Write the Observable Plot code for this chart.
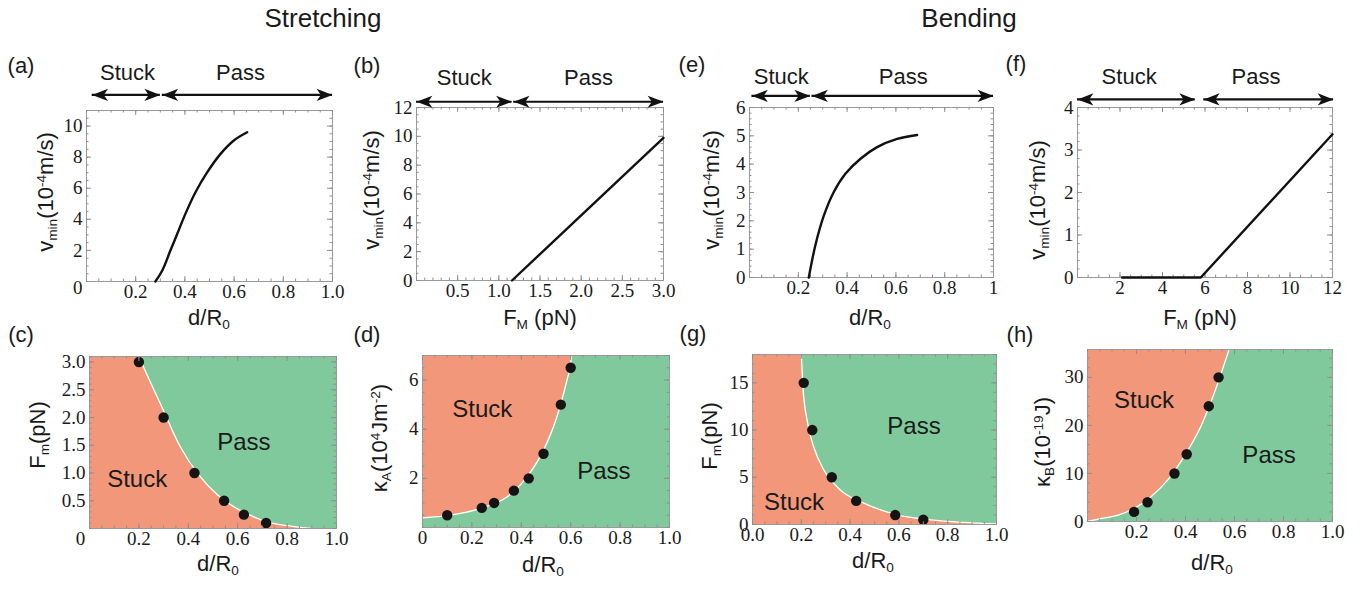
<!DOCTYPE html>
<html><head><meta charset="utf-8">
<script src="https://cdn.jsdelivr.net/npm/d3@7"></script>
<script src="https://cdn.jsdelivr.net/npm/@observablehq/plot@0.6"></script>
<style>
body{margin:0;background:#fff;}
#fig{position:relative;width:1371px;height:590px;overflow:hidden;font-family:"Liberation Sans",Arial,sans-serif;color:#1a1a1a;}
.t{position:absolute;transform:translate(-50%,-50%);white-space:nowrap;line-height:1;}
.title{font-size:26px;}
.pl{font-size:22px;}
.xl{font-size:22px;}
.yl{font-size:22px;transform:translate(-50%,-50%) rotate(-90deg);}
.sb{font-size:0.62em;position:relative;top:0.3em;}
.sp{font-size:0.62em;position:relative;top:-0.55em;}
#fig svg g[aria-label*="axis"] text, #fig svg g[aria-label*="axis"]{font-family:"Liberation Serif","Times New Roman",serif !important;font-size:19px !important;}
</style></head><body><div id="fig"></div>
<script>
// ---------- Data ----------
// (a) stretching: v_min vs d/R0
const aD = [0.280,0.308,0.341,0.369,0.402,0.443,0.491,0.545,0.599,0.653];
const aV = [0,0.71,1.99,3.07,4.35,5.74,7.03,8.21,9.07,9.6];
const aStuck = [0.023,0.30], aPass = [0.308,1.0], aArrowY = 12, aLabelX = [0.167,0.626];
const aXTicks = [0.2,0.4,0.6,0.8,1.0], aYTicks = [2,4,6,8,10];
// (b) stretching: v_min vs F_M
const bF = [1.16,3.0];
const bV = [0,9.9];
const bStuck = [0,1.16], bPass = [1.18,3.0], bArrowY = 12.4, bLabelX = [0.58,2.09];
const bXTicks = [0.5,1.0,1.5,2.0,2.5,3.0], bYTicks = [0,2,4,6,8,10,12];
// (e) bending: v_min vs d/R0
const eD = [0.243,0.270,0.305,0.345,0.393,0.455,0.523,0.605,0.687];
const eV = [0,1.14,2.19,3.01,3.66,4.19,4.60,4.89,5.03];
const eStuck = [0.01,0.249], ePass = [0.256,1.0], eArrowY = 6.41, eLabelX = [0.13,0.63];
const eXTicks = [0.2,0.4,0.6,0.8,1], eYTicks = [0,1,2,3,4,5,6];
// (f) bending: v_min vs F_M
const fF = [2.1,5.8,12];
const fV = [0,0,3.37];
const fStuck = [0,5.54], fPass = [5.94,12.05], fArrowY = 4.19, fLabelX = [2.43,8.4];
const fXTicks = [2,4,6,8,10,12], fYTicks = [0,1,2,3,4];
// (c) phase diagram F_m vs d/R0 (stretching)
const cD = [0.2,0.3,0.425,0.545,0.625,0.715];
const cF = [3.0,2.0,1.0,0.5,0.25,0.1];
const cBx = [0.2,0.24,0.287,0.368,0.449,0.52,0.585,0.65,0.72,0.8,0.854,0.9];
const cBy = [3.1,2.7,2.25,1.47,0.93,0.6,0.39,0.24,0.12,0.05,0.02,0];
const cLabelX = [0.193,0.625], cLabelY = [0.89,1.55];
const cXTicks = [0.2,0.4,0.6,0.8,1.0], cYTicks = [0.5,1.0,1.5,2.0,2.5,3.0];
// (d) phase diagram kappa_A vs d/R0
const dD = [0.1,0.24,0.29,0.37,0.43,0.49,0.56,0.6];
const dK = [0.5,0.8,1.0,1.5,2.0,3.0,5.0,6.5];
const dBx = [0,0.113,0.235,0.343,0.424,0.491,0.545,0.585,0.597,0.604];
const dBy = [0.39,0.5,0.78,1.25,2.07,3.17,4.53,6.0,6.5,7.0];
const dLabelX = [0.242,0.734], dLabelY = [4.8,2.28];
const dXTicks = [0,0.2,0.4,0.6,0.8,1.0], dYTicks = [2,4,6];
// (g) phase diagram F_m vs d/R0 (bending)
const gD = [0.21,0.245,0.325,0.425,0.585,0.70];
const gF = [15,10,5,2.5,1,0.5];
const gBx = [0.2,0.207,0.224,0.251,0.292,0.36,0.456,0.593,0.73,0.866,1.0];
const gBy = [18,14.5,11.0,8.2,5.8,3.66,2.26,1.03,0.5,0.22,0.05];
const gLabelX = [0.17,0.662], gLabelY = [2.3,10.4];
const gXTicks = [0,0.2,0.4,0.6,0.8,1.0], gYTicks = [0,5,10,15];
// (h) phase diagram kappa_B vs d/R0
const hD = [0.19,0.245,0.355,0.405,0.495,0.535];
const hK = [2,4,10,14,24,30];
const hBx = [0,0.054,0.122,0.19,0.258,0.327,0.394,0.462,0.517,0.578];
const hBy = [0,0.6,1.3,2.7,5.1,8.6,13.5,19.7,26.7,35.8];
const hLabelX = [0.231,0.741], hLabelY = [25.3,13.8];
const hXTicks = [0.2,0.4,0.6,0.8,1.0], hYTicks = [0,10,20,30];
const regionLabels = ["Stuck","Pass"];

// ---------- Styles ----------
const GREEN = "#80c99c", ORANGE = "#f3977a", TICK = "#8f8f8f", FRAME = "#9a9a9a", INK = "#111";
const SANS = "Liberation Sans, Arial, sans-serif";
const SERIF = "'Liberation Serif', 'Times New Roman', serif";
const TFONT = {fontFamily: SERIF, fontSize: 19, fill: "#1a1a1a"};
const fig = document.getElementById("fig");
const zip = (xs, ys) => xs.map((x, i) => ({x, y: ys[i]}));

const headR = {draw(ctx, size) { const r = Math.sqrt(size / Math.PI);
  ctx.moveTo(0, 0); ctx.lineTo(-3 * r, -1.15 * r); ctx.lineTo(-2.2 * r, 0); ctx.lineTo(-3 * r, 1.15 * r); ctx.closePath(); }};
const headL = {draw(ctx, size) { const r = Math.sqrt(size / Math.PI);
  ctx.moveTo(0, 0); ctx.lineTo(3 * r, -1.15 * r); ctx.lineTo(2.2 * r, 0); ctx.lineTo(3 * r, 1.15 * r); ctx.closePath(); }};

function arrowMarks(stuck, pass, y, labelX, dy) {
  const segs = [{x1: stuck[0], x2: stuck[1]}, {x1: pass[0], x2: pass[1]}];
  return [
    Plot.ruleY(segs, {y: () => y, x1: "x1", x2: "x2", stroke: INK, strokeWidth: 2.2}),
    Plot.dot(segs, {x: "x1", y: () => y, symbol: headL, r: 5.3, fill: INK}),
    Plot.dot(segs, {x: "x2", y: () => y, symbol: headR, r: 5.3, fill: INK}),
    Plot.text(regionLabels, {x: (d, i) => labelX[i], y: () => y, dy, text: d => d, fontSize: 22, fontFamily: SANS, fill: "#1a1a1a"})
  ];
}

function frameTicks(xs, ys, len, W, H) {
  return [
    Plot.tickX(xs, {x: d => d, insetTop: H - len, stroke: TICK}),
    Plot.tickX(xs, {x: d => d, insetBottom: H - len, stroke: TICK}),
    Plot.tickY(ys, {y: d => d, insetLeft: W - len, stroke: TICK}),
    Plot.tickY(ys, {y: d => d, insetRight: W - len, stroke: TICK})
  ];
}

function regionMarks(bx, by, above, ymax, dots, labelX, labelY) {
  const bnd = zip(bx, by);
  const area = above
    ? Plot.areaY(bnd, {x: "x", y1: "y", y2: () => ymax, fill: ORANGE, curve: "monotone-x"})
    : Plot.areaY([{x: 0, y: ymax}, ...bnd], {x: "x", y1: () => 0, y2: "y", fill: ORANGE, curve: "monotone-x"});
  return [
    Plot.frame({fill: GREEN}),
    area,
    Plot.line(bnd, {x: "x", y: "y", stroke: "white", strokeWidth: 1.3, curve: "monotone-x"}),
    Plot.dot(dots, {x: "x", y: "y", r: 5.2, fill: "#141414"}),
    Plot.text(regionLabels, {x: (d, i) => labelX[i], y: (d, i) => labelY[i], text: d => d, fontSize: 24, fontFamily: SANS, fill: "#1a1a1a"})
  ];
}

function panel(p) {
  const [L, T, R, B] = p.frame;
  const W = R - L, H = B - T;
  const mL = 80, mT = 70, mR = 20, mB = 40;
  const xMinor = d3.range(p.xd[0], p.xd[1] + 1e-9, p.xm);
  const yMinor = d3.range(p.yd[0], p.yd[1] + 1e-9, p.ym);
  const marks = [
    ...(p.under || []),
    Plot.frame({stroke: FRAME}),
    ...frameTicks(xMinor, yMinor, 2.5, W, H),
    ...frameTicks(p.xt, p.yt, 5, W, H),
    Plot.axisX(p.xt, {anchor: "bottom", tickSize: 0, tickPadding: 3, tickFormat: p.xf, label: null, ...TFONT}),
    Plot.axisY(p.yt, {anchor: "left", tickSize: 0, tickPadding: 4, tickFormat: p.yf, label: null, ...TFONT}),
    ...(p.over || [])
  ];
  const svg = Plot.plot({
    width: W + mL + mR, height: H + mT + mB,
    marginLeft: mL, marginTop: mT, marginRight: mR, marginBottom: mB,
    x: {domain: p.xd}, y: {domain: p.yd},
    marks
  });
  svg.style.position = "absolute";
  svg.style.left = (L - mL) + "px";
  svg.style.top = (T - mT) + "px";
  svg.style.maxWidth = "none";
  svg.style.overflow = "visible";
  svg.style.background = "none";
  fig.appendChild(svg);
  return svg;
}

const f1 = d => d.toFixed(1);
const fi = d => String(d);

// (a)
panel({frame: [86, 110, 332, 281], xd: [0, 1], yd: [0, 11], xm: 0.05, ym: 0.5,
  xt: aXTicks, yt: aYTicks, xf: f1, yf: fi,
  over: [
    Plot.axisY([0], {anchor: "left", tickSize: 0, tickPadding: 4, dy: 6, tickFormat: fi, label: null, ...TFONT}),
    Plot.line(zip(aD, aV), {x: "x", y: "y", stroke: INK, strokeWidth: 2.4, curve: "catmull-rom"}),
    ...arrowMarks(aStuck, aPass, aArrowY, aLabelX, -22)
  ]});
// (b)
panel({frame: [416, 107, 663, 280], xd: [0, 3], yd: [0, 12], xm: 0.1, ym: 0.5,
  xt: bXTicks, yt: bYTicks, xf: f1, yf: fi,
  over: [
    Plot.line(zip(bF, bV), {x: "x", y: "y", stroke: INK, strokeWidth: 2.4}),
    ...arrowMarks(bStuck, bPass, bArrowY, bLabelX, -24)
  ]});
// (e)
panel({frame: [749, 107, 993, 277], xd: [0, 1], yd: [0, 6], xm: 0.05, ym: 0.2,
  xt: eXTicks, yt: eYTicks, xf: d => d === 1 ? "1" : d.toFixed(1), yf: fi,
  over: [
    Plot.line(zip(eD, eV), {x: "x", y: "y", stroke: INK, strokeWidth: 2.4, curve: "catmull-rom"}),
    ...arrowMarks(eStuck, ePass, eArrowY, eLabelX, -19)
  ]});
// (f)
panel({frame: [1077, 107, 1332, 277], xd: [0, 12], yd: [0, 4], xm: 0.5, ym: 0.2,
  xt: fXTicks, yt: fYTicks, xf: fi, yf: fi,
  over: [
    Plot.line(zip(fF, fV), {x: "x", y: "y", stroke: INK, strokeWidth: 2.4}),
    ...arrowMarks(fStuck, fPass, fArrowY, fLabelX, -22)
  ]});
// (c)
panel({frame: [89, 356, 336, 528], xd: [0, 1], yd: [0, 3.1], xm: 0.05, ym: 0.1,
  xt: cXTicks, yt: cYTicks, xf: f1, yf: f1,
  under: regionMarks(cBx, cBy, false, 3.1, zip(cD, cF), cLabelX, cLabelY),
  over: [Plot.axisX([0], {anchor: "bottom", tickSize: 0, tickPadding: 3, dx: -9, tickFormat: fi, label: null, ...TFONT})]});
// (d)
panel({frame: [422, 355, 669, 527], xd: [0, 1], yd: [0, 7], xm: 0.05, ym: 0.5,
  xt: dXTicks, yt: dYTicks, xf: d => d === 0 ? "0" : d.toFixed(1), yf: fi,
  under: regionMarks(dBx, dBy, true, 7, zip(dD, dK), dLabelX, dLabelY)});
// (g)
panel({frame: [752, 354, 996, 524], xd: [0, 1], yd: [0, 18], xm: 0.05, ym: 1,
  xt: gXTicks, yt: gYTicks, xf: f1, yf: fi,
  under: regionMarks(gBx, gBy, false, 18, zip(gD, gF), gLabelX, gLabelY)});
// (h)
panel({frame: [1087, 349, 1332, 521], xd: [0, 1], yd: [0, 35.8], xm: 0.05, ym: 2,
  xt: hXTicks, yt: hYTicks, xf: f1, yf: fi,
  under: regionMarks(hBx, hBy, true, 35.8, zip(hD, hK), hLabelX, hLabelY)});

// ---------- Text ----------
const texts = [
  ["title", 323, 18, "Stretching"], ["title", 969, 18, "Bending"],
  ["pl", 21, 66, "(a)"], ["pl", 367, 66, "(b)"], ["pl", 692, 65, "(e)"], ["pl", 1016, 64, "(f)"],
  ["pl", 21, 335, "(c)"], ["pl", 367, 335, "(d)"], ["pl", 693, 334, "(g)"], ["pl", 1020, 335, "(h)"],
  ["xl", 209, 318, 'd/R<span class="sb">0</span>'],
  ["xl", 540, 318, 'F<span class="sb">M</span> (pN)'],
  ["xl", 870, 318, 'd/R<span class="sb">0</span>'],
  ["xl", 1200, 318, 'F<span class="sb">M</span> (pN)'],
  ["xl", 218, 564, 'd/R<span class="sb">0</span>'],
  ["xl", 543, 565, 'd/R<span class="sb">0</span>'],
  ["xl", 873, 561, 'd/R<span class="sb">0</span>'],
  ["xl", 1212, 563, 'd/R<span class="sb">0</span>'],
  ["yl", 46, 192, 'v<span class="sb">min</span>(10<span class="sp">-4</span>m/s)'],
  ["yl", 372, 190, 'v<span class="sb">min</span>(10<span class="sp">-4</span>m/s)'],
  ["yl", 712, 190, 'v<span class="sb">min</span>(10<span class="sp">-4</span>m/s)'],
  ["yl", 1038, 200, 'v<span class="sb">min</span>(10<span class="sp">-4</span>m/s)'],
  ["yl", 38, 435, 'F<span class="sb">m</span>(pN)'],
  ["yl", 380, 438, 'κ<span class="sb">A</span>(10<span class="sp">4</span>Jm<span class="sp">-2</span>)'],
  ["yl", 710, 436, 'F<span class="sb">m</span>(pN)'],
  ["yl", 1043, 442, 'κ<span class="sb">B</span>(10<span class="sp">-19</span>J)']
];
for (const [cls, x, y, html] of texts) {
  const el = document.createElement("div");
  el.className = "t " + cls;
  el.style.left = x + "px"; el.style.top = y + "px";
  el.innerHTML = html;
  fig.appendChild(el);
}
</script></body></html>
